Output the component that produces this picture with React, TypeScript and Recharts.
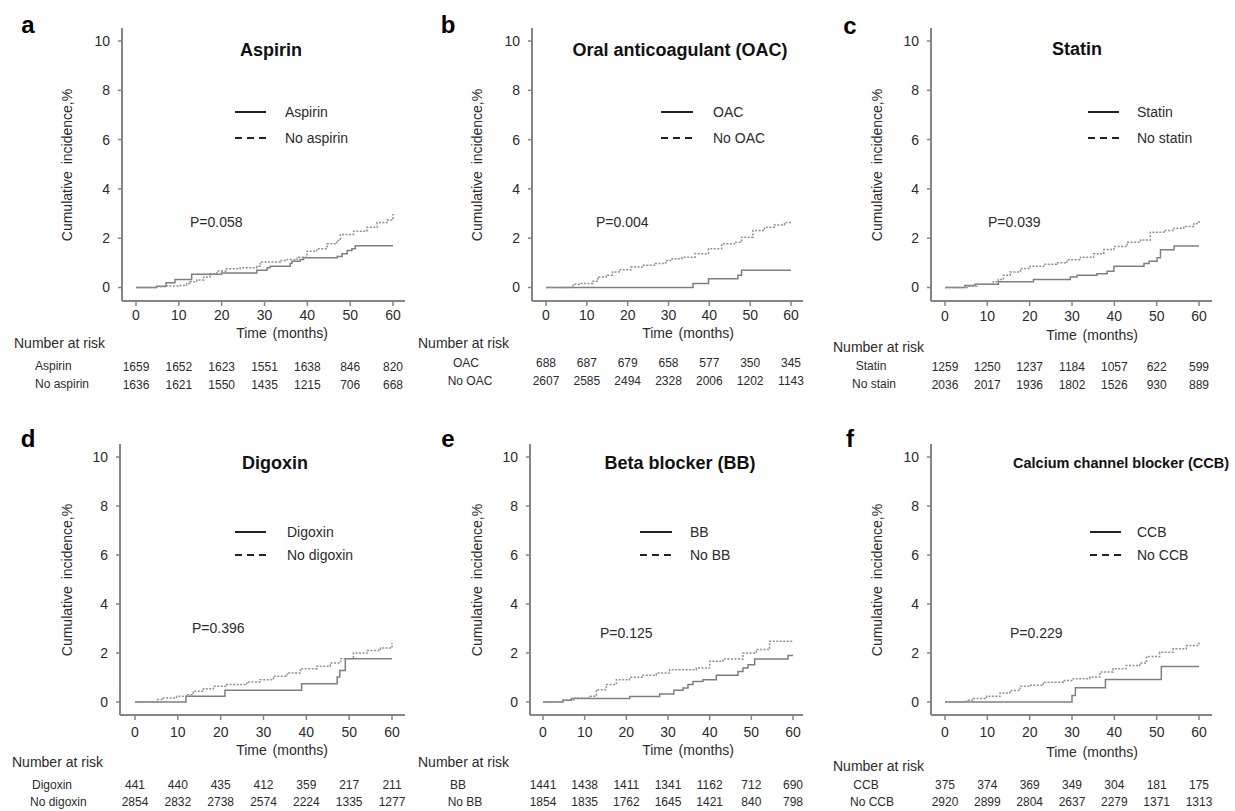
import React from "react";
import { LineChart, Line, XAxis, YAxis, Legend } from "recharts";

const FONT = "'Liberation Sans', Arial, Helvetica, sans-serif";
const AXIS = "#858585";
const CURVE = "#7f7f7f";
const DOT = "#8f8f8f";
const TXT = "#2b2b2b";

const monthTicks = [0, 10, 20, 30, 40, 50, 60];
const percentTicks = [0, 2, 4, 6, 8, 10];

// ---- a: Aspirin
const aspirinCurve: [number, number][] = [[0,0],[4.8,0.05],[7,0.19],[9.1,0.32],[13,0.54],[20,0.59],[28.2,0.7],[30.6,0.8],[31.3,0.86],[36,0.97],[36.4,1.06],[38.3,1.14],[39.1,1.21],[47,1.26],[48.1,1.37],[49.3,1.5],[50.4,1.57],[51.2,1.69],[60,1.69]];
const noAspirinCurve: [number, number][] = [[0,0],[4.5,0.03],[7,0.06],[10,0.08],[11.8,0.16],[12.6,0.23],[14.2,0.3],[15.8,0.43],[17.3,0.56],[18.9,0.67],[21,0.76],[24.3,0.8],[28.2,0.86],[29,1.03],[33.7,1.1],[35.3,1.14],[37.6,1.23],[39.9,1.47],[42.2,1.57],[44.6,1.77],[46.9,1.91],[47.7,2.15],[50.8,2.28],[53.9,2.44],[56.3,2.64],[58.6,2.74],[60,2.98]];
const aspirinRisk = [1659, 1652, 1623, 1551, 1638, 846, 820];
const noAspirinRisk = [1636, 1621, 1550, 1435, 1215, 706, 668];

// ---- b: OAC
const oacCurve: [number, number][] = [[0,0],[36,0.16],[39.8,0.35],[47,0.5],[47.9,0.7],[60,0.7]];
const noOacCurve: [number, number][] = [[0,0],[6.6,0.08],[7,0.13],[8.6,0.16],[11.5,0.25],[12.7,0.43],[14.7,0.5],[16.3,0.63],[17.9,0.72],[20.8,0.83],[23.6,0.9],[26.8,0.97],[29.3,1.1],[30.9,1.17],[33.3,1.23],[36.5,1.37],[39.8,1.57],[43,1.77],[46.2,1.84],[47.9,2.04],[50.7,2.31],[53.5,2.44],[55.9,2.54],[58.4,2.64],[60,2.68]];
const oacRisk = [688, 687, 679, 658, 577, 350, 345];
const noOacRisk = [2607, 2585, 2494, 2328, 2006, 1202, 1143];

// ---- c: Statin
const statinCurve: [number, number][] = [[0,0],[4.7,0.08],[7.1,0.13],[12.6,0.23],[20.9,0.32],[29.6,0.43],[31.2,0.5],[35.9,0.56],[38.3,0.66],[39.9,0.86],[47,0.97],[48.2,1.06],[50.1,1.21],[50.9,1.53],[54.1,1.68],[60,1.68]];
const noStatinCurve: [number, number][] = [[0,0],[5.5,0.05],[7.5,0.13],[11.4,0.23],[12.6,0.32],[13.8,0.5],[15.4,0.63],[17.8,0.77],[20.1,0.86],[23.3,0.94],[26.4,1.0],[28.8,1.13],[32,1.23],[35.1,1.37],[37.5,1.54],[39.9,1.66],[43,1.84],[46.2,1.93],[48.5,2.24],[51.7,2.31],[54.1,2.4],[56.4,2.47],[58.8,2.6],[60,2.71]];
const statinRisk = [1259, 1250, 1237, 1184, 1057, 622, 599];
const noStatinRisk = [2036, 2017, 1936, 1802, 1526, 930, 889];

// ---- d: Digoxin
const digoxinCurve: [number, number][] = [[0,0],[11.9,0.23],[21,0.48],[38.9,0.75],[47.2,1.02],[47.8,1.29],[49.1,1.77],[60,1.77]];
const noDigoxinCurve: [number, number][] = [[0,0],[5.1,0.1],[6.6,0.16],[9.7,0.23],[12.1,0.3],[13.6,0.44],[16,0.54],[18.3,0.64],[21.4,0.71],[26.1,0.82],[29.2,0.91],[32.3,1.05],[35.5,1.18],[38.6,1.36],[42.5,1.46],[45.6,1.59],[48,1.77],[51,2.0],[54.2,2.1],[57.3,2.2],[60,2.41]];
const digoxinRisk = [441, 440, 435, 412, 359, 217, 211];
const noDigoxinRisk = [2854, 2832, 2738, 2574, 2224, 1335, 1277];

// ---- e: Beta blocker
const bbCurve: [number, number][] = [[0,0],[4.8,0.07],[6.8,0.14],[20.8,0.22],[28,0.33],[31.4,0.48],[33.6,0.57],[34.8,0.71],[36,0.84],[38.4,0.91],[41.6,1.09],[46.8,1.25],[48,1.39],[49.2,1.52],[50.8,1.76],[58.8,1.9],[60,1.9]];
const noBbCurve: [number, number][] = [[0,0],[4.8,0.08],[7.4,0.16],[11,0.23],[12.8,0.5],[15.2,0.71],[17.6,0.91],[20.8,1.01],[24,1.09],[27.2,1.18],[30.4,1.32],[36.8,1.39],[40,1.66],[43.2,1.76],[48,2.0],[51.2,2.14],[54.4,2.48],[60,2.5]];
const bbRisk = [1441, 1438, 1411, 1341, 1162, 712, 690];
const noBbRisk = [1854, 1835, 1762, 1645, 1421, 840, 798];

// ---- f: Calcium channel blocker
const ccbCurve: [number, number][] = [[0,0],[30,0.27],[30.8,0.58],[37.9,0.92],[51.1,1.45],[60,1.45]];
const noCcbCurve: [number, number][] = [[0,0],[5.1,0.07],[6.7,0.14],[9.8,0.23],[13,0.37],[15.3,0.47],[17.7,0.64],[20,0.68],[23.2,0.81],[27.9,0.88],[30.3,0.95],[34.2,1.02],[36.6,1.22],[39.7,1.36],[42.8,1.49],[46,1.59],[47.6,1.86],[50.7,2.03],[53.9,2.17],[57,2.31],[60,2.44]];
const ccbRisk = [375, 374, 369, 349, 304, 181, 175];
const noCcbRisk = [2920, 2899, 2804, 2637, 2279, 1371, 1313];

type Geo = { axisLeft: number; axisRight: number; axisTop: number; axisBottom: number; x0: number; x60: number; y0: number; y10: number };
type Lay = {
  letter: [number, number]; title: [number, number]; titleSize: number; legendLine: [number, number]; legendText: number; legendY: [number, number];
  p: [number, number]; time: [number, number]; nar: [number, number]; rowLab: [number, number, number, number]; rowAnchor: "start" | "middle";
  tickY: number; riskY: [number, number]; yLab: [number, number];
};
type PanelDef = {
  letter: string; title: string; g1: string; g2: string; rowG2: string; c1: [number, number][]; c2: [number, number][];
  r1: number[]; r2: number[]; pValue: string; geo: Geo; lay: Lay;
};

const row1 = { axisTop: 28, axisBottom: 301, y0: 287.5, y10: 41 };
const row2 = { axisTop: 444, axisBottom: 715, y0: 702, y10: 457 };

const panels: PanelDef[] = [
  {
    letter: "a", title: "Aspirin", g1: "Aspirin", g2: "No aspirin", rowG2: "No aspirin", c1: aspirinCurve, c2: noAspirinCurve, r1: aspirinRisk, r2: noAspirinRisk, pValue: "P=0.058",
    geo: { axisLeft: 122, axisRight: 405, x0: 136, x60: 393, ...row1 },
    lay: { letter: [28, 24], title: [271, 50], titleSize: 18, legendLine: [235, 266], legendText: 285, legendY: [112, 138], p: [190, 222], time: [282, 333], nar: [14, 343], rowLab: [35, 366, 35, 384], rowAnchor: "start", tickY: 315, riskY: [367, 385], yLab: [67, 165] },
  },
  {
    letter: "b", title: "Oral anticoagulant (OAC)", g1: "OAC", g2: "No OAC", rowG2: "No OAC", c1: oacCurve, c2: noOacCurve, r1: oacRisk, r2: noOacRisk, pValue: "P=0.004",
    geo: { axisLeft: 532, axisRight: 803, x0: 546, x60: 791, ...row1 },
    lay: { letter: [448, 24], title: [680, 50], titleSize: 18, legendLine: [661, 693], legendText: 713, legendY: [112, 138], p: [596, 222], time: [688, 333], nar: [418, 343], rowLab: [466, 363, 470, 381], rowAnchor: "middle", tickY: 315, riskY: [363, 381], yLab: [477, 165] },
  },
  {
    letter: "c", title: "Statin", g1: "Statin", g2: "No statin", rowG2: "No stain", c1: statinCurve, c2: noStatinCurve, r1: statinRisk, r2: noStatinRisk, pValue: "P=0.039",
    geo: { axisLeft: 931, axisRight: 1212, x0: 945, x60: 1199, ...row1 },
    lay: { letter: [850, 25], title: [1077, 49], titleSize: 18, legendLine: [1088, 1119], legendText: 1137, legendY: [112, 138], p: [988, 222], time: [1092, 335], nar: [833, 347], rowLab: [871, 366, 874, 384], rowAnchor: "middle", tickY: 316, riskY: [367, 385], yLab: [877, 165] },
  },
  {
    letter: "d", title: "Digoxin", g1: "Digoxin", g2: "No digoxin", rowG2: "No digoxin", c1: digoxinCurve, c2: noDigoxinCurve, r1: digoxinRisk, r2: noDigoxinRisk, pValue: "P=0.396",
    geo: { axisLeft: 120, axisRight: 405, x0: 135, x60: 392, ...row2 },
    lay: { letter: [28, 438], title: [275, 463], titleSize: 18, legendLine: [235, 266], legendText: 287, legendY: [532, 555], p: [192, 628], time: [282, 750], nar: [12, 762], rowLab: [32, 785, 30, 802], rowAnchor: "start", tickY: 732, riskY: [785, 802], yLab: [67, 580] },
  },
  {
    letter: "e", title: "Beta blocker (BB)", g1: "BB", g2: "No BB", rowG2: "No BB", c1: bbCurve, c2: noBbCurve, r1: bbRisk, r2: noBbRisk, pValue: "P=0.125",
    geo: { axisLeft: 530, axisRight: 803, x0: 543, x60: 793, ...row2 },
    lay: { letter: [448, 438], title: [680, 463], titleSize: 18, legendLine: [640, 672], legendText: 690, legendY: [532, 555], p: [600, 633], time: [688, 750], nar: [418, 762], rowLab: [458, 785, 465, 802], rowAnchor: "middle", tickY: 732, riskY: [785, 802], yLab: [477, 580] },
  },
  {
    letter: "f", title: "Calcium channel blocker (CCB)", g1: "CCB", g2: "No CCB", rowG2: "No CCB", c1: ccbCurve, c2: noCcbCurve, r1: ccbRisk, r2: noCcbRisk, pValue: "P=0.229",
    geo: { axisLeft: 931, axisRight: 1212, x0: 945, x60: 1199, ...row2 },
    lay: { letter: [850, 438], title: [1121, 463], titleSize: 14.5, legendLine: [1090, 1121], legendText: 1137, legendY: [532, 555], p: [1010, 633], time: [1092, 752], nar: [833, 766], rowLab: [866, 785, 872, 802], rowAnchor: "middle", tickY: 732, riskY: [785, 802], yLab: [877, 580] },
  },
];

const toRows = (c: [number, number][]) => c.map(([t, v]) => ({ t, v }));

function Panel({ p }: { p: PanelDef }) {
  const g = p.geo;
  const L = p.lay;
  const pxM = (g.x60 - g.x0) / 60;
  const xDomain = [-(g.x0 - g.axisLeft) / pxM, (g.axisRight - g.x0) / pxM];
  const pxU = (g.y0 - g.y10) / 10;
  const yDomain = [-(g.axisBottom - g.y0) / pxU, (g.y0 - g.axisTop) / pxU];
  const YW = 70, MT = 10, MR = 12, XH = 100;
  const left = g.axisLeft - YW;
  const top = g.axisTop - MT;
  const width = g.axisRight + MR - left;
  const height = MT + (g.axisBottom - g.axisTop) + XH;

  const renderTick = (props: any) => {
    const { x, payload } = props;
    const i = monthTicks.indexOf(payload.value);
    return (
      <g>
        <text x={x} y={L.tickY - top} textAnchor="middle" dominantBaseline="central" fontSize={14} fill={TXT} fontFamily={FONT}>{payload.value}</text>
        <text x={x} y={L.riskY[0] - top} textAnchor="middle" dominantBaseline="central" fontSize={12} fill={TXT} fontFamily={FONT}>{p.r1[i]}</text>
        <text x={x} y={L.riskY[1] - top} textAnchor="middle" dominantBaseline="central" fontSize={12} fill={TXT} fontFamily={FONT}>{p.r2[i]}</text>
      </g>
    );
  };

  const legendContent = () => (
    <svg width={200} height={50} style={{ overflow: "visible", display: "block" }}>
      <line x1={0} x2={L.legendLine[1] - L.legendLine[0]} y1={0} y2={0} stroke="#222" strokeWidth={2} />
      <line x1={0} x2={L.legendLine[1] - L.legendLine[0]} y1={L.legendY[1] - L.legendY[0]} y2={L.legendY[1] - L.legendY[0]} stroke="#222" strokeWidth={2} strokeDasharray="7 5" />
      <text x={L.legendText - L.legendLine[0]} y={0} dominantBaseline="central" fontSize={14} fill={TXT} fontFamily={FONT}>{p.g1}</text>
      <text x={L.legendText - L.legendLine[0]} y={L.legendY[1] - L.legendY[0]} dominantBaseline="central" fontSize={14} fill={TXT} fontFamily={FONT}>{p.g2}</text>
    </svg>
  );

  return (
    <div style={{ position: "absolute", left, top }}>
      <LineChart width={width} height={height} margin={{ top: MT, right: MR, bottom: 0, left: 0 }} style={{ overflow: "visible" }}>
        <XAxis
          type="number" dataKey="t" domain={xDomain} ticks={monthTicks} allowDataOverflow interval={0}
          height={XH} tickSize={5} tickLine={{ stroke: AXIS, strokeWidth: 1.5 }} axisLine={{ stroke: AXIS, strokeWidth: 2 }}
          tick={renderTick}
        />
        <YAxis
          type="number" domain={yDomain} ticks={percentTicks} allowDataOverflow interval={0}
          width={YW} tickSize={4} tickMargin={8} tickLine={{ stroke: AXIS, strokeWidth: 1.5 }} axisLine={{ stroke: AXIS, strokeWidth: 2 }}
          tick={{ fontSize: 14, fill: TXT, fontFamily: FONT }}
        />
        <Line data={toRows(p.c1)} dataKey="v" name={p.g1} type="stepAfter" stroke={CURVE} strokeWidth={1.5} dot={false} activeDot={false} isAnimationActive={false} />
        <Line data={toRows(p.c2)} dataKey="v" name={p.g2} type="stepAfter" stroke={DOT} strokeWidth={1.5} strokeDasharray="2 1.5" dot={false} activeDot={false} isAnimationActive={false} />
        <Legend
          layout="horizontal" verticalAlign="middle" align="center" content={legendContent}
          wrapperStyle={{ left: L.legendLine[0] - left, top: L.legendY[0] - top, width: 200, height: 50, bottom: "auto", right: "auto", margin: 0 }}
        />
      </LineChart>
    </div>
  );
}

function Labels({ p }: { p: PanelDef }) {
  const L = p.lay;
  return (
    <g fontFamily={FONT}>
      <text x={L.letter[0]} y={L.letter[1]} textAnchor="middle" dominantBaseline="central" fontSize={24} fontWeight="bold" fill="#000">{p.letter}</text>
      <text x={L.title[0]} y={L.title[1]} textAnchor="middle" dominantBaseline="central" fontSize={L.titleSize} fontWeight="bold" fill="#111">{p.title}</text>
      <text x={L.p[0]} y={L.p[1]} dominantBaseline="central" fontSize={14} fill={TXT}>{p.pValue}</text>
      <text x={L.time[0]} y={L.time[1]} textAnchor="middle" dominantBaseline="central" fontSize={14} fill={TXT} wordSpacing={2}>Time (months)</text>
      <text x={L.nar[0]} y={L.nar[1]} dominantBaseline="central" fontSize={14} fill={TXT}>Number at risk</text>
      <text x={L.rowLab[0]} y={L.rowLab[1]} textAnchor={L.rowAnchor} dominantBaseline="central" fontSize={12} fill={TXT}>{p.g1}</text>
      <text x={L.rowLab[2]} y={L.rowLab[3]} textAnchor={L.rowAnchor} dominantBaseline="central" fontSize={12} fill={TXT}>{p.rowG2}</text>
      <text transform={`translate(${L.yLab[0]},${L.yLab[1]}) rotate(-90)`} textAnchor="middle" dominantBaseline="central" fontSize={14} fill={TXT} wordSpacing={3}>Cumulative incidence,%</text>
    </g>
  );
}

export default function App() {
  return (
    <div style={{ position: "absolute", left: 0, top: 0, width: 1235, height: 811, background: "#fff", overflow: "hidden" }}>
      {panels.map((p) => <Panel key={p.letter} p={p} />)}
      <svg width={1235} height={811} style={{ position: "absolute", left: 0, top: 0, pointerEvents: "none" }}>
        {panels.map((p) => <Labels key={p.letter} p={p} />)}
      </svg>
    </div>
  );
}
